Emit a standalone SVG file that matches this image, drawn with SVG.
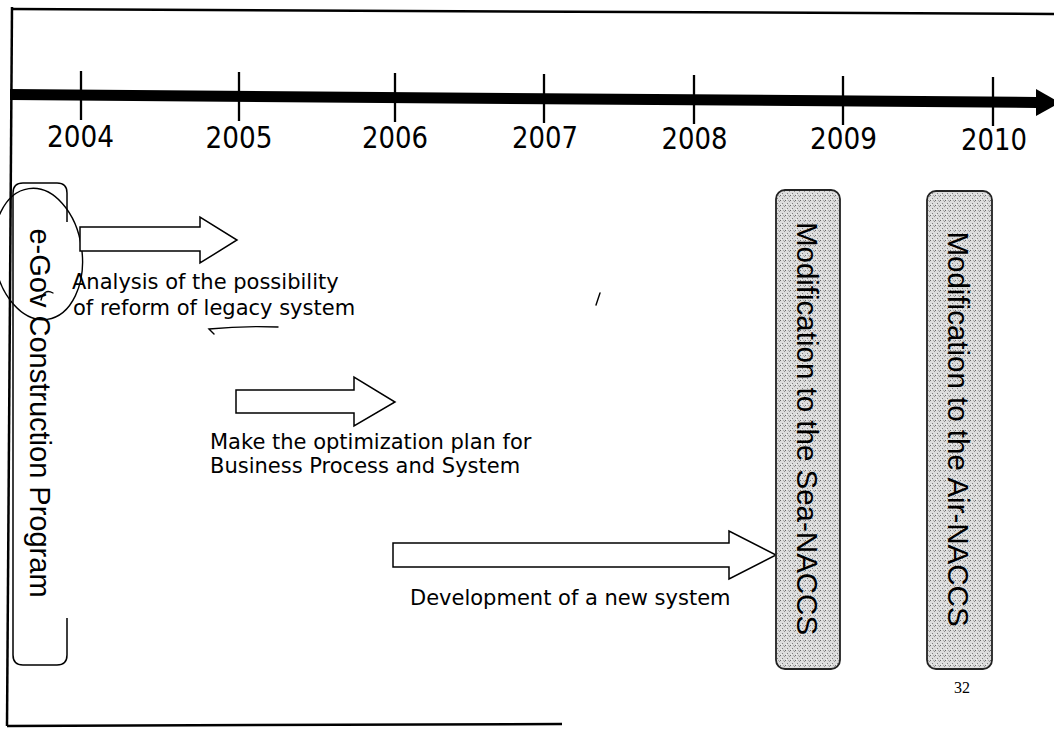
<svg xmlns="http://www.w3.org/2000/svg" width="1054" height="731" viewBox="0 0 1054 731">
<defs>
<pattern id="stip" patternUnits="userSpaceOnUse" width="5" height="5">
<rect width="5" height="5" fill="#dcdcdc"/>
<rect x="0" y="0" width="1" height="1" fill="#6a6a6a"/>
<rect x="2" y="3" width="1" height="1" fill="#808080"/>
<rect x="4" y="1" width="1" height="1" fill="#959595"/>
<rect x="3" y="0" width="1" height="1" fill="#a8a8a8"/>
<rect x="1" y="4" width="1" height="1" fill="#f4f4f4"/>
</pattern>
</defs>
<style>
.frame{fill:none;stroke:#000;stroke-width:2.5}
.tick{stroke:#000;stroke-width:2.3}
.year{font-family:"DejaVu Sans",Verdana,sans-serif;font-size:30px;fill:#000;text-anchor:middle}
.lbl{font-family:"DejaVu Sans",Verdana,sans-serif;font-size:21px;fill:#000}
.vlbl{font-family:"Liberation Sans",Arial,sans-serif;font-size:29.5px;fill:#000;text-anchor:middle}
.blk{fill:#fff;stroke:#000;stroke-width:1.5;stroke-linejoin:miter}
.gbox{fill:url(#stip);stroke:#222;stroke-width:1.8}
.mark{fill:none;stroke:#000;stroke-width:1.4;stroke-linecap:round}
</style>
<rect width="1054" height="731" fill="#fff"/>

<g id="frame">
<path class="frame" d="M 12 9 L 1054 14"/>
<path class="frame" d="M 12 7 L 7 726"/>
<path class="frame" d="M 7 726 L 562 724"/>
</g>

<g id="timeline">
<polygon points="10,89 1037,97 1037,108 10,100" fill="#000"/>
<polygon points="1036,89 1060,102.5 1036,116" fill="#000"/>
<line class="tick" x1="81" y1="71" x2="81" y2="120"/>
<line class="tick" x1="239" y1="72" x2="239" y2="121"/>
<line class="tick" x1="395" y1="73" x2="395" y2="122"/>
<line class="tick" x1="544" y1="74" x2="544" y2="123"/>
<line class="tick" x1="694" y1="75" x2="694" y2="124"/>
<line class="tick" x1="843" y1="76" x2="843" y2="125"/>
<line class="tick" x1="993" y1="77" x2="993" y2="126"/>
<text class="year" x="80.5" y="147" textLength="67" lengthAdjust="spacingAndGlyphs">2004</text>
<text class="year" x="239" y="147.5" textLength="67" lengthAdjust="spacingAndGlyphs">2005</text>
<text class="year" x="395" y="148" textLength="66" lengthAdjust="spacingAndGlyphs">2006</text>
<text class="year" x="545" y="148" textLength="66" lengthAdjust="spacingAndGlyphs">2007</text>
<text class="year" x="694.5" y="148.5" textLength="66" lengthAdjust="spacingAndGlyphs">2008</text>
<text class="year" x="843.5" y="149" textLength="67" lengthAdjust="spacingAndGlyphs">2009</text>
<text class="year" x="994" y="149.5" textLength="66" lengthAdjust="spacingAndGlyphs">2010</text>
</g>

<g id="egov">
<path class="blk" style="fill:none" d="M 67 222 L 67 193 Q 67 183 57 183 L 23 183 Q 13 183 13 193 L 13 655 Q 13 665 23 665 L 57 665 Q 67 665 67 655 L 67 618"/>
<text class="vlbl" style="font-size:29px" transform="translate(30,413) rotate(90)">e-Gov Construction Program</text>
<ellipse class="mark" cx="38" cy="254" rx="44" ry="66" transform="rotate(-8 38 254)"/>
<path class="mark" d="M 41 300 Q 44 288 53 293"/>
</g>

<g id="connectors">
<polygon class="blk" points="80,227 200,227 200,217 237,240 200,263 200,251 80,251"/>
<polygon class="blk" points="236,390 354,390 354,377 395,402 354,426 354,413 236,413"/>
<polygon class="blk" points="393,543 729,543 729,531 776,555 729,579 729,567 393,567"/>
</g>

<g id="label-analysis">
<text class="lbl" x="72" y="289">Analysis of the possibility</text>
<text class="lbl" x="73" y="315">of reform of legacy system</text>
<path class="mark" d="M 278 327 C 252 326 228 327 209 329 L 214 334"/>
</g>

<g id="label-optimization">
<text class="lbl" x="210" y="449">Make the optimization plan for</text>
<text class="lbl" x="210" y="473">Business Process and System</text>
</g>

<g id="label-development">
<text class="lbl" x="410" y="605">Development of a new system</text>
</g>

<g id="sea">
<rect class="gbox" x="776" y="190" width="64" height="479" rx="9"/>
<text class="vlbl" transform="translate(797,428.5) rotate(90)">Modification to the Sea-NACCS</text>
</g>

<g id="air">
<rect class="gbox" x="927" y="191" width="65" height="478" rx="9"/>
<text class="vlbl" transform="translate(948,429) rotate(90)">Modification to the Air-NACCS</text>
</g>

<g id="marks">
<path class="mark" d="M 600 293 L 596 305"/>
<text x="962" y="693" font-family="'Liberation Serif','Times New Roman',serif" font-size="16" text-anchor="middle" fill="#000">32</text>
</g>
</svg>
